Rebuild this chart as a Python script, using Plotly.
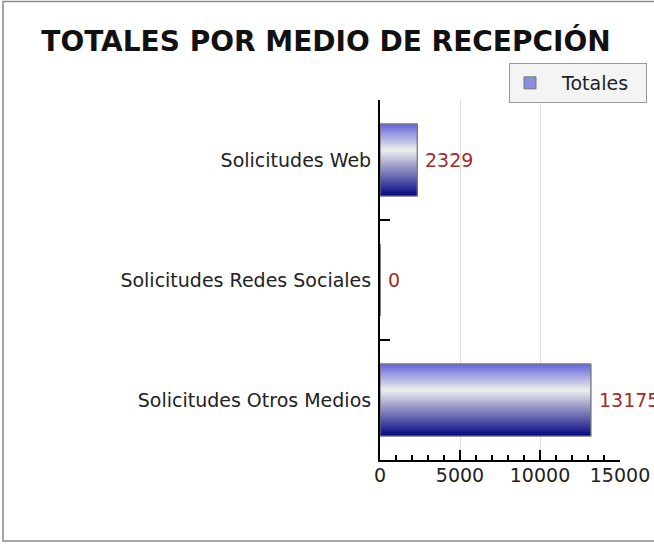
import plotly.graph_objects as go

# ---- data ----
categories = ["Solicitudes Web", "Solicitudes Redes Sociales", "Solicitudes Otros Medios"]
values = [2329, 0, 13175]
series_name = "Totales"
title_text = "TOTALES POR MEDIO DE RECEPCIÓN"
x_tickvals = [0, 5000, 10000, 15000]
x_ticktext = ["0", "5000", "10000", "15000"]

# ---- style ----
FONT = "DejaVu Sans"
BAR_W = 0.6
N_SLICES = 36
NBSP = "\u00a0"


def hex2rgb(h):
    h = h.lstrip("#")
    return tuple(int(h[i:i + 2], 16) for i in (0, 2, 4))


STOPS = [(0.0, hex2rgb("#6a6ade")), (0.36, hex2rgb("#eeeeee")), (1.0, hex2rgb("#0a0a84"))]


def grad(t):
    for (t0, c0), (t1, c1) in zip(STOPS[:-1], STOPS[1:]):
        if t <= t1:
            f = (t - t0) / (t1 - t0) if t1 > t0 else 0
            c = [round(a + (b - a) * f) for a, b in zip(c0, c1)]
            return "rgb(%d,%d,%d)" % tuple(c)
    return "rgb(%d,%d,%d)" % STOPS[-1][1]


fig = go.Figure()

# base bar (legend entry)
fig.add_trace(go.Bar(
    x=values, y=categories, orientation="h", name=NBSP * 2 + series_name + NBSP * 2,
    width=BAR_W, marker=dict(color="#8c8ce0", line=dict(color="#777777", width=1)),
    showlegend=True, hoverinfo="x+y",
))

# gradient slices (each covers from its start to the bar's bottom edge)
step = BAR_W / N_SLICES
for i in range(N_SLICES):
    t = i / (N_SLICES - 1)
    fig.add_trace(go.Bar(
        x=values, y=categories, orientation="h",
        offset=-BAR_W / 2 + i * step, width=BAR_W - i * step,
        marker=dict(color=grad(t), line=dict(width=0)),
        showlegend=False, hoverinfo="skip",
    ))

# outline on top
fig.add_trace(go.Bar(
    x=values, y=categories, orientation="h", width=BAR_W,
    marker=dict(color="rgba(0,0,0,0)", line=dict(color="#777777", width=1.2)),
    showlegend=False, hoverinfo="skip",
))

# value labels
for v, c in zip(values, categories):
    fig.add_annotation(
        x=v, y=c, text=str(v), showarrow=False, xanchor="left", yanchor="middle",
        xshift=6, font=dict(family=FONT, size=19, color="#a52a2a"),
    )

L, R, T, B = 380, 34, 100, 84
W, H = 654, 544
pw, ph = W - L - R, H - T - B

# outer frame
fig.add_shape(
    type="rect", xref="paper", yref="paper",
    x0=(3 - L) / pw, x1=(720 - L) / pw,
    y0=(H - B - 541) / ph, y1=(H - B - 1.5) / ph,
    line=dict(color="#8a8a8a", width=1.5), fillcolor="rgba(0,0,0,0)", layer="below",
)

fig.update_layout(
    width=W, height=H,
    margin=dict(l=L, r=R, t=T, b=B, autoexpand=False),
    paper_bgcolor="white", plot_bgcolor="white",
    barmode="overlay", bargap=0.4,
    font=dict(family=FONT, size=19, color="#222222"),
    title=dict(
        text="<b>%s</b>" % title_text, xref="container", yref="container",
        x=326 / W, y=1 - 41 / H, xanchor="center", yanchor="middle",
        font=dict(family=FONT, size=28, color="#111111"),
    ),
    legend=dict(
        x=(509 - L) / pw, y=(H - B - 63) / ph, xanchor="left", yanchor="top",
        bgcolor="#f4f4f4", bordercolor="#999999", borderwidth=1,
        font=dict(family=FONT, size=19, color="#222222"),
        itemwidth=30,
    ),
    xaxis=dict(
        range=[0, 15000], tickvals=x_tickvals, ticktext=x_ticktext,
        showline=True, linecolor="black", linewidth=2,
        ticks="inside", ticklen=10, tickwidth=1.5, tickcolor="black",
        minor=dict(dtick=1000, ticks="inside", ticklen=5, tickwidth=1.5, tickcolor="black", showgrid=False),
        showgrid=True, gridcolor="#dddddd", gridwidth=1,
        zeroline=False, ticklabelstandoff=-3,
        tickfont=dict(family=FONT, size=19, color="#222222"),
    ),
    yaxis=dict(
        type="category", categoryorder="array", categoryarray=categories,
        autorange="reversed",
        showline=True, linecolor="black", linewidth=2,
        ticks="inside", ticklen=10, tickwidth=1.5, tickcolor="black",
        tickson="boundaries", showgrid=False, zeroline=False,
        ticklabelstandoff=3,
        tickfont=dict(family=FONT, size=19, color="#222222"),
    ),
)

fig.write_html("out.html", config={"displayModeBar": False},
               post_script="document.body.style.margin='0';")
